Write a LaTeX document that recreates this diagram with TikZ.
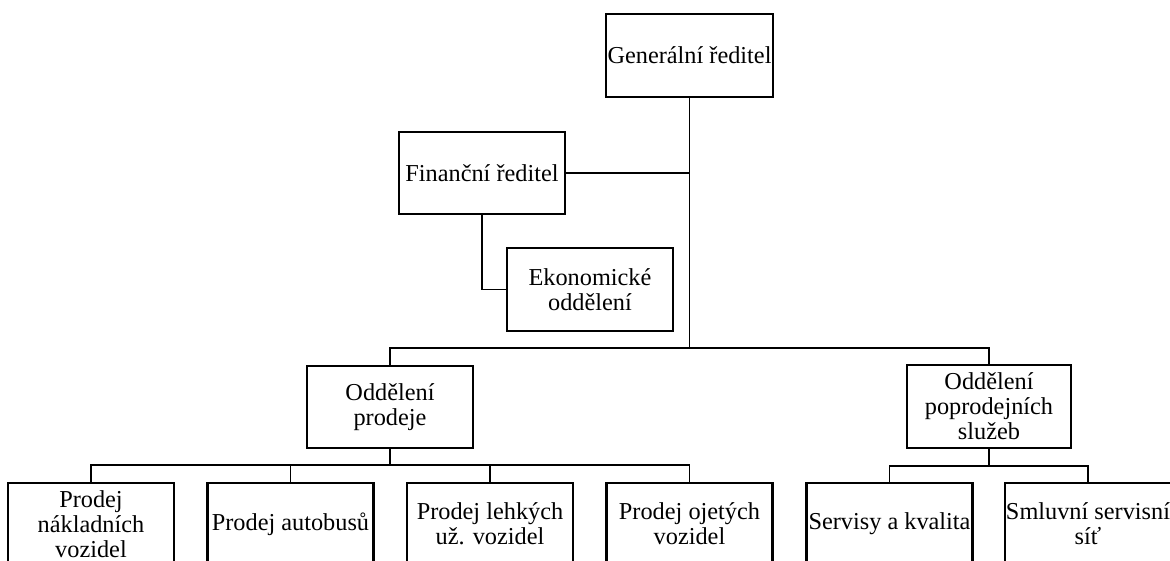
\documentclass[tikz,border=0pt]{standalone}
\usepackage{fontspec}
\setmainfont{Liberation Serif}
\begin{document}
\begin{tikzpicture}[x=1pt,y=-1pt,
  box/.style={draw=black,line width=2.8pt,minimum width=166pt,minimum height=82pt,
    inner sep=0pt,align=center,font=\fontsize{24.3}{25}\selectfont},
  link/.style={draw=black,line width=1.3pt}]
\useasboundingbox (0,0) rectangle (1170,560);
\fill[white] (0,0) rectangle (1170,560);
\clip (0,0) rectangle (1170,560);
\node[box,minimum width=167pt,minimum height=83pt] (gen) at (689.5,55.5) {Generální ředitel};
\node[box] (fin) at (482,173) {Finanční ředitel};
\node[box,minimum height=83pt] (eko) at (590,289.5) {Ekonomické\\oddělení};
\node[box] (prod) at (390,407) {Oddělení\\prodeje};
\node[box,minimum width=164pt,minimum height=83pt] (serv) at (989,406.5) {Oddělení\\poprodejních\\služeb};
\node[box] (b1) at (91,524) {Prodej\\nákladních\\vozidel};
\node[box] (b2) at (290.5,524) {Prodej autobusů};
\node[box] (b3) at (490,524) {Prodej lehkých\\už. vozidel};
\node[box] (b4) at (689.5,524) {Prodej ojetých\\vozidel};
\node[box] (b5) at (889.5,524) {Servisy a kvalita};
\node[box] (b6) at (1088,524) {Smluvní servisní\\síť};
\coordinate (bus1) at (689.5,348);
\coordinate (bus2) at (390,465);
\coordinate (bus3) at (989,466);
\draw[link] (gen.south) -- (bus1);
\draw[link] (fin.east) -- (fin.east -| gen.south);
\draw[link] (fin.south) |- (eko.west);
\draw[link] (prod.north) |- (bus1) -| (serv.north);
\draw[link] (prod.south) -- (bus2);
\draw[link] (b1.north) |- (bus2) -| (b4.north);
\draw[link] (b2.north) -- (b2.north |- bus2);
\draw[link] (b3.north) -- (b3.north |- bus2);
\draw[link] (serv.south) -- (bus3);
\draw[link] (b5.north) |- (bus3) -| (b6.north);
\end{tikzpicture}
\end{document}
